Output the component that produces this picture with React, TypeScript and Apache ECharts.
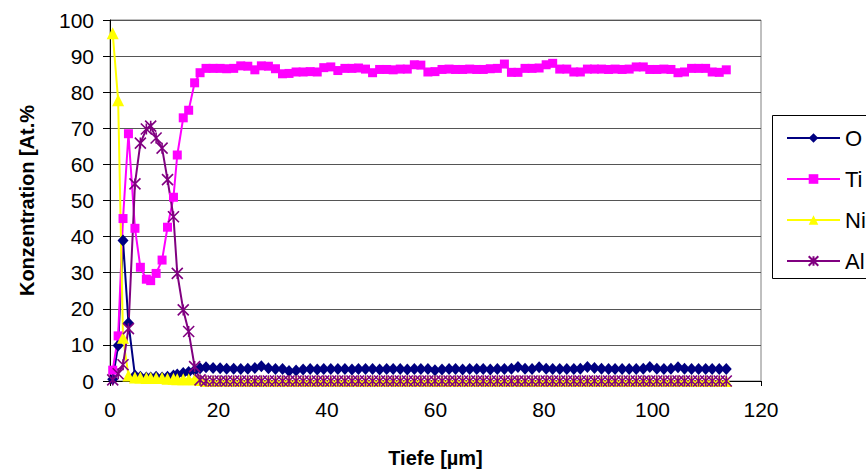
import React, { useEffect, useRef } from "react";
import * as echarts from "echarts";

// Depth positions (µm): near-surface points, then bulk points
const depthSurface = [0.5, 1.5, 2.4, 3.4, 4.6, 5.6, 6.7, 7.5, 8.5, 9.6, 10.6, 11.7, 12.4, 13.5, 14.5, 15.6, 16.6, 17.7];
const depthBulk = [
  19.0, 20.3, 21.5, 22.8, 24.1, 25.4, 26.7, 27.9, 29.2, 30.5,
  31.8, 33.0, 34.3, 35.6, 36.9, 38.2, 39.4, 40.7, 42.0, 43.3,
  44.6, 45.8, 47.1, 48.4, 49.7, 51.0, 52.2, 53.5, 54.8, 56.1,
  57.3, 58.6, 59.9, 61.2, 62.5, 63.7, 65.0, 66.3, 67.6, 68.8,
  70.1, 71.4, 72.7, 74.0, 75.2, 76.5, 77.8, 79.1, 80.4, 81.6,
  82.9, 84.2, 85.5, 86.7, 88.0, 89.3, 90.6, 91.9, 93.1, 94.4,
  95.7, 97.0, 98.3, 99.5, 100.8, 102.1, 103.4, 104.7, 105.9, 107.2,
  108.5, 109.8, 111.0, 112.3, 113.6,
];

const oSurface = [0.5, 9.8, 38.9, 16.1, 1.5, 1.2, 1.0, 1.0, 1.2, 1.0, 1.2, 1.5, 1.8, 2.2, 2.5, 3.0, 3.5, 3.8];
const oBulk = [
  3.6, 3.5, 3.4, 3.4, 3.3, 3.4, 3.6, 4.1, 3.5, 3.3,
  3.3, 2.8, 2.9, 3.2, 3.3, 3.2, 3.3, 3.3, 3.3, 3.3,
  3.2, 3.3, 3.3, 3.3, 3.2, 3.3, 3.3, 3.3, 3.2, 3.3,
  3.3, 3.3, 3.0, 3.2, 3.3, 3.3, 3.2, 3.3, 3.3, 3.3,
  3.2, 3.3, 3.3, 3.4, 3.9, 3.4, 3.3, 3.8, 3.4, 3.3,
  3.3, 3.3, 3.3, 3.4, 3.9, 3.6, 3.4, 3.3, 3.3, 3.3,
  3.3, 3.3, 3.4, 3.9, 3.4, 3.3, 3.4, 3.8, 3.4, 3.3,
  3.3, 3.3, 3.3, 3.3, 3.3,
];

const tiSurface = [3, 12.5, 45, 68.5, 42.3, 31.5, 28.2, 27.8, 29.8, 33.5, 42.6, 50.9, 62.6, 72.9, 75, 82.6, 85.4, 86.6];
const tiBulk = [
  86.6, 86.6, 86.5, 86.6, 87.3, 87.2, 86.2, 87.3, 87.2, 86.5,
  85.1, 85.2, 85.6, 85.6, 85.7, 85.6, 86.8, 87.0, 86.0, 86.6,
  86.6, 86.7, 86.4, 85.4, 86.3, 86.3, 86.2, 86.4, 86.4, 87.6,
  87.5, 85.6, 85.7, 86.3, 86.4, 86.3, 86.3, 86.4, 86.3, 86.3,
  86.5, 86.6, 87.8, 85.5, 85.5, 86.6, 86.6, 86.7, 87.6, 88.0,
  86.4, 86.4, 85.6, 85.6, 86.4, 86.4, 86.4, 86.3, 86.4, 86.3,
  86.4, 87.0, 87.0, 86.3, 86.3, 86.4, 86.3, 85.4, 85.6, 86.6,
  86.6, 86.6, 85.6, 85.5, 86.2,
];

const niSurface = [96.3, 77.8, 12, 1.5, 1, 1, 0.8, 0.8, 0.8, 0.8, 0.6, 0.6, 0.5, 0.5, 0.5, 0.5, 0.3, 0];
const niBulk = [
  0, 0, 0, 0, 0, 0, 0, 0, 0, 0,
  0, 0, 0, 0, 0, 0, 0, 0, 0, 0,
  0, 0, 0, 0, 0, 0, 0, 0, 0, 0,
  0, 0, 0, 0, 0, 0, 0, 0, 0, 0,
  0, 0, 0, 0, 0, 0, 0, 0, 0, 0,
  0, 0, 0, 0, 0, 0, 0, 0, 0, 0,
  0, 0, 0, 0, 0, 0, 0, 0, 0, 0,
  0, 0, 0, 0, 0,
];

const alSurface = [0.3, 2, 4.5, 14.5, 54.6, 65.9, 69.8, 70.6, 67.3, 64.5, 55.8, 45.5, 29.8, 19.7, 13.7, 4, 0.3, 0];
const alBulk = [
  0, 0, 0, 0, 0, 0, 0, 0, 0, 0,
  0, 0, 0, 0, 0, 0, 0, 0, 0, 0,
  0, 0, 0, 0, 0, 0, 0, 0, 0, 0,
  0, 0, 0, 0, 0, 0, 0, 0, 0, 0,
  0, 0, 0, 0, 0, 0, 0, 0, 0, 0,
  0, 0, 0, 0, 0, 0, 0, 0, 0, 0,
  0, 0, 0, 0, 0, 0, 0, 0, 0, 0,
  0, 0, 0, 0, 0,
];

const seriesNames = ["O", "Ti", "Ni", "Al"];
const xTitle = "Tiefe [µm]";
const yTitle = "Konzentration [At.%";

const depth = [...depthSurface, ...depthBulk];
const pairs = (vals: number[]) => depth.map((x, i) => [x, vals[i]]);

const FONT = "'Liberation Sans', Arial, sans-serif";
const STAR = "path://M0,0L10,10M10,0L0,10M5,0L5,10";

export default function App() {
  const ref = useRef<HTMLDivElement>(null);
  useEffect(() => {
    if (!ref.current) return;
    const chart = echarts.init(ref.current, undefined, { renderer: "svg" });
    const mk = (name: string, vals: number[], color: string, symbol: string, size: any, bw = 0) => ({
      name,
      type: "line",
      data: pairs(vals),
      symbol,
      symbolSize: size,
      showSymbol: true,
      showAllSymbol: true,
      lineStyle: { color, width: 2 },
      itemStyle: { color, borderColor: color, borderWidth: bw },
      emphasis: { disabled: true },
    });
    chart.setOption({
      animation: false,
      textStyle: { fontFamily: FONT },
      grid: {
        left: 110,
        right: 105,
        top: 20,
        bottom: 92,
        show: true,
        borderColor: "#808080",
        borderWidth: 1,
        backgroundColor: "transparent",
      },
      xAxis: {
        type: "value",
        min: 0,
        max: 120,
        interval: 20,
        axisLine: { show: true, onZero: false, lineStyle: { color: "#000", width: 1 } },
        axisTick: { show: true, length: 5, lineStyle: { color: "#000" } },
        axisLabel: { fontSize: 21, color: "#000", margin: 18, fontFamily: FONT },
        splitLine: { show: false },
        name: xTitle,
        nameLocation: "middle",
        nameGap: 67,
        nameTextStyle: { fontSize: 20, fontWeight: "bold", color: "#000", fontFamily: FONT },
      },
      yAxis: {
        type: "value",
        min: 0,
        max: 100,
        interval: 10,
        axisLine: { show: true, lineStyle: { color: "#000", width: 1 } },
        axisTick: { show: true, length: 7, lineStyle: { color: "#000" } },
        axisLabel: { fontSize: 21, color: "#000", margin: 16, fontFamily: FONT },
        splitLine: { show: true, lineStyle: { color: "#555", width: 1 } },
        name: yTitle,
        nameLocation: "middle",
        nameGap: 73,
        nameTextStyle: { fontSize: 20, fontWeight: "bold", color: "#000", fontFamily: FONT },
      },
      legend: {
        orient: "vertical",
        left: 781,
        top: 122,
        itemWidth: 53,
        itemHeight: 12,
        itemGap: 19,
        data: seriesNames,
        textStyle: { fontSize: 22, color: "#000", fontFamily: FONT, lineHeight: 22 },
        selectedMode: false,
      },
      graphic: [
        {
          type: "rect",
          left: 772,
          top: 115,
          z: -1,
          shape: { width: 120, height: 163 },
          style: { fill: "#fff", stroke: "#000", lineWidth: 1 },
        },
      ],
      series: [
        mk(seriesNames[0], [...oSurface, ...oBulk], "#000080", "diamond", [11, 12]),
        mk(seriesNames[1], [...tiSurface, ...tiBulk], "#FF00FF", "rect", 9),
        mk(seriesNames[2], [...niSurface, ...niBulk], "#FFFF00", "triangle", 12),
        mk(seriesNames[3], [...alSurface, ...alBulk], "#800080", STAR, 11, 1.6),
      ],
    });
    return () => chart.dispose();
  }, []);
  return (
    <div
      ref={ref}
      style={{ position: "absolute", left: 0, top: 0, width: 866, height: 473, background: "#fff" }}
    />
  );
}
